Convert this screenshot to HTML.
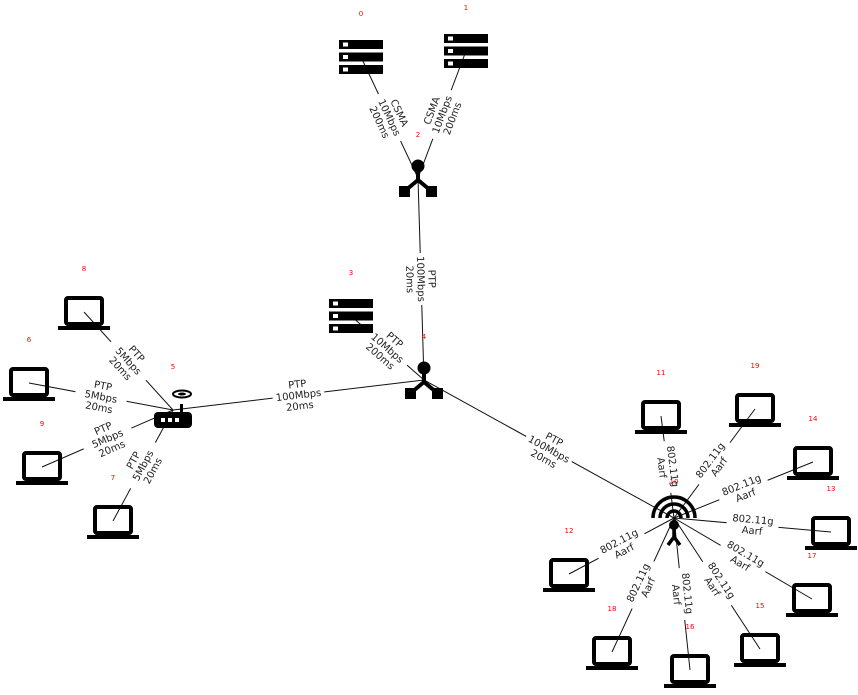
<!DOCTYPE html>
<html><head><meta charset="utf-8">
<style>
html,body{margin:0;padding:0;background:#fff;}
svg{display:block;font-family:"DejaVu Sans","Liberation Sans",sans-serif;}
</style></head>
<body>
<svg id="net" width="858" height="695" viewBox="0 0 858 695" xmlns="http://www.w3.org/2000/svg">
<defs>
<g id="laptop">
<rect x="-18" y="-14" width="36" height="26" rx="2" fill="none" stroke="#000" stroke-width="4"/>
<rect x="-26" y="14" width="52" height="4" fill="#000"/>
</g>
<g id="server">
<rect x="-22" y="-17" width="44" height="9" fill="#000"/><rect x="-18" y="-14.5" width="5" height="4" fill="#fff"/>
<rect x="-22" y="-4.5" width="44" height="9" fill="#000"/><rect x="-18" y="-2" width="5" height="4" fill="#fff"/>
<rect x="-22" y="8" width="44" height="9" fill="#000"/><rect x="-18" y="10.5" width="5" height="4" fill="#fff"/>
</g>
<g id="switch">
<circle cx="0" cy="-12" r="6.5" fill="#000"/>
<path d="M0,-8 V2 L-12,12 M0,2 L12,12" stroke="#000" stroke-width="4" fill="none"/>
<rect x="-19" y="8" width="11" height="11" fill="#000"/>
<rect x="8" y="8" width="11" height="11" fill="#000"/>
</g>
<g id="router">
<rect x="-19" y="2" width="38" height="16" rx="4" fill="#000"/>
<rect x="-12" y="8" width="4" height="4" fill="#fff"/><rect x="-5" y="8" width="4" height="4" fill="#fff"/><rect x="2" y="8" width="4" height="4" fill="#fff"/>
<rect x="7" y="-6" width="3" height="9" fill="#000"/>
<ellipse cx="9" cy="-16" rx="9" ry="3.5" fill="none" stroke="#000" stroke-width="2"/>
<ellipse cx="9" cy="-16" rx="4" ry="1.5" fill="#000"/>
</g>
<g id="ap">
<path d="M-21,0 A21,21 0 0 1 21,0" fill="none" stroke="#000" stroke-width="3.5"/>
<path d="M-14,0 A14,14 0 0 1 14,0" fill="none" stroke="#000" stroke-width="3.5"/>
<path d="M-7,0 A7,7 0 0 1 7,0" fill="none" stroke="#000" stroke-width="3.5"/>
<circle cx="0" cy="7" r="5" fill="#000"/>
<path d="M0,10 V19 L-6,27 M0,19 L6,27" stroke="#000" stroke-width="3.5" fill="none"/>
</g>
</defs>
<g id="edges"></g>
<g id="labels"></g>
<g id="icons"></g>
<g id="ids"></g>
</svg>
<script>
const nodeIds = [0,1,2,3,4,5,6,7,8,9,10,11,12,13,14,15,16,17,18,19];
const nodeTypes = ["server","server","switch","server","switch","router","laptop","laptop","laptop","laptop","ap","laptop","laptop","laptop","laptop","laptop","laptop","laptop","laptop","laptop"];
const nodeX = [361,466,418,351,424,173,29,113,84,42,674,661,569,831,813,760,690,812,612,755];
const nodeY = [57,51,178,316,380,410,383,521,312,467,518,416,574,532,462,649,670,599,652,409];
const edgeFrom = [0,1,2,3,4,5,5,5,5,10,10,10,10,10,10,10,10,10,10];
const edgeTo =   [2,2,4,4,5,8,6,9,7,4,11,19,14,13,17,15,16,18,12];
const edgeLabels = [
 ["CSMA","10Mbps","200ms"],["CSMA","10Mbps","200ms"],["PTP","100Mbps","20ms"],["PTP","10Mbps","200ms"],
 ["PTP","100Mbps","20ms"],["PTP","5Mbps","20ms"],["PTP","5Mbps","20ms"],["PTP","5Mbps","20ms"],["PTP","5Mbps","20ms"],
 ["PTP","100Mbps","20ms"],
 ["802.11g","Aarf"],["802.11g","Aarf"],["802.11g","Aarf"],["802.11g","Aarf"],["802.11g","Aarf"],
 ["802.11g","Aarf"],["802.11g","Aarf"],["802.11g","Aarf"],["802.11g","Aarf"]
];
const NS="http://www.w3.org/2000/svg";
const gE=document.getElementById('edges'),gL=document.getElementById('labels'),gI=document.getElementById('icons'),gD=document.getElementById('ids');
function px(i){return nodeX[i];} function py(i){return nodeY[i];}
for(let k=0;k<edgeFrom.length;k++){
  const a=edgeFrom[k],b=edgeTo[k];
  const x1=px(a),y1=py(a),x2=px(b),y2=py(b);
  const ln=document.createElementNS(NS,'line');
  
  
  ln.setAttribute('x1',x1);ln.setAttribute('y1',y1);ln.setAttribute('x2',x2);ln.setAttribute('y2',y2);
  ln.setAttribute('stroke','#111');ln.setAttribute('stroke-width','1');
  gE.appendChild(ln);
  let ang=Math.atan2(y2-y1,x2-x1)*180/Math.PI;
  if(ang>90)ang-=180; if(ang<-90)ang+=180;
  const mx=(x1+x2)/2,my=(y1+y2)/2;
  const g=document.createElementNS(NS,'g');
  
  
  g.setAttribute('transform','translate('+mx+','+my+') rotate('+ang+')');
  const lines=edgeLabels[k];
  const lh=11, h=lines.length*lh+2;
  const r=document.createElementNS(NS,'rect');
  r.setAttribute('x',-26);r.setAttribute('y',-h/2);r.setAttribute('width',52);r.setAttribute('height',h);r.setAttribute('fill','#fff');
  g.appendChild(r);
  lines.forEach((t,i)=>{
    const tx=document.createElementNS(NS,'text');
    tx.setAttribute('x',0);tx.setAttribute('y',(i-(lines.length-1)/2)*lh+3.5);
    tx.setAttribute('text-anchor','middle');tx.setAttribute('font-size','10');tx.setAttribute('fill','#222');
    tx.textContent=t;g.appendChild(tx);
  });
  gL.appendChild(g);
}
for(let i=0;i<nodeIds.length;i++){
  const u=document.createElementNS(NS,'use');
  
  
  u.setAttribute('href','#'+nodeTypes[i]);
  u.setAttribute('x',nodeX[i]);u.setAttribute('y',nodeY[i]);
  gI.appendChild(u);
  const t=document.createElementNS(NS,'text');
  
  
  t.setAttribute('x',nodeX[i]);t.setAttribute('y',nodeY[i]-(nodeTypes[i]==='ap'?34:41));
  t.setAttribute('text-anchor','middle');t.setAttribute('font-size','7');t.setAttribute('fill','#f00');
  t.textContent=nodeIds[i];gD.appendChild(t);
}
</script>
</body></html>
